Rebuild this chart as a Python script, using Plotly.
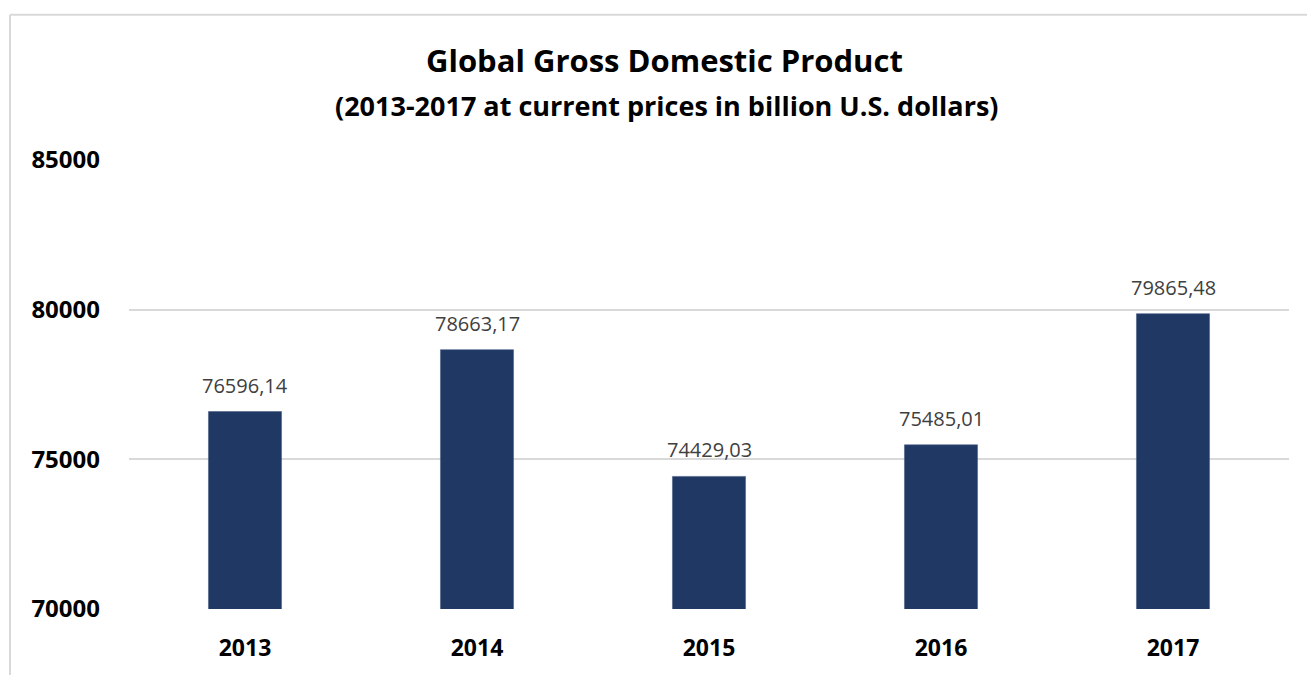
import plotly.graph_objects as go

years = ["2013", "2014", "2015", "2016", "2017"]
gdp = [76596.14, 78663.17, 74429.03, 75485.01, 79865.48]
y_ticks = [70000, 75000, 80000, 85000]

labels = [f"{v:.2f}".replace(".", ",") for v in gdp]

W, H = 1307, 675
ml, mr, mt, mb = 129, 18, 160, 64
pw, ph = W - ml - mr, H - mt - mb
FONT = "Open Sans"

fig = go.Figure()
fig.add_trace(go.Bar(
    x=years, y=gdp,
    marker=dict(color="#203864", line=dict(color="#4a5f86", width=0.6)),
    width=0.315, hoverinfo="skip",
))

annotations = [
    dict(x=i, y=v, text=t, showarrow=False, yanchor="bottom", yshift=11,
         font=dict(family=FONT, size=20, color="#404040"))
    for i, (v, t) in enumerate(zip(gdp, labels))
]
annotations += [
    dict(xref="paper", yref="paper", x=(664 - ml) / pw, y=(H - mb - 60) / ph,
         text="<b>Global Gross Domestic Product</b>",
         showarrow=False, xanchor="center", yanchor="middle",
         font=dict(family=FONT, size=31, color="#000000")),
    dict(xref="paper", yref="paper", x=(666 - ml) / pw, y=(H - mb - 105) / ph,
         text="<b>(2013-2017 at current prices in billion U.S. dollars)</b>",
         showarrow=False, xanchor="center", yanchor="middle",
         font=dict(family=FONT, size=27, color="#000000")),
]

bx = (10 - ml) / pw
by = (H - mb - 14) / ph
shapes = [
    dict(type="line", xref="paper", yref="paper", x0=bx, x1=bx, y0=-0.3, y1=by,
         line=dict(color="#d9d9d9", width=2)),
    dict(type="line", xref="paper", yref="paper", x0=bx, x1=1.2, y0=by, y1=by,
         line=dict(color="#d9d9d9", width=2)),
]

fig.update_layout(
    width=W, height=H,
    margin=dict(l=ml, r=mr, t=mt, b=mb, pad=0),
    paper_bgcolor="white", plot_bgcolor="white",
    showlegend=False,
    annotations=annotations, shapes=shapes,
    xaxis=dict(type="category", range=[-0.5, len(years) - 0.5],
               showgrid=False, showline=False, zeroline=False, ticks="",
               tickfont=dict(family=FONT, size=23, color="#000000", weight="bold"),
               ticklabelstandoff=23),
    yaxis=dict(range=[70000, 85000], tickvals=y_ticks, tickformat="d",
               showgrid=True, gridcolor="#d9d9d9",
               gridwidth=1.5, zeroline=False, showline=False, ticks="",
               tickfont=dict(family=FONT, size=24, color="#000000", weight="bold"),
               ticklabelstandoff=28),
)

fig.write_html("out.html", config={"displayModeBar": False},
               post_script="document.body.style.margin='0';document.body.style.overflow='hidden';")
